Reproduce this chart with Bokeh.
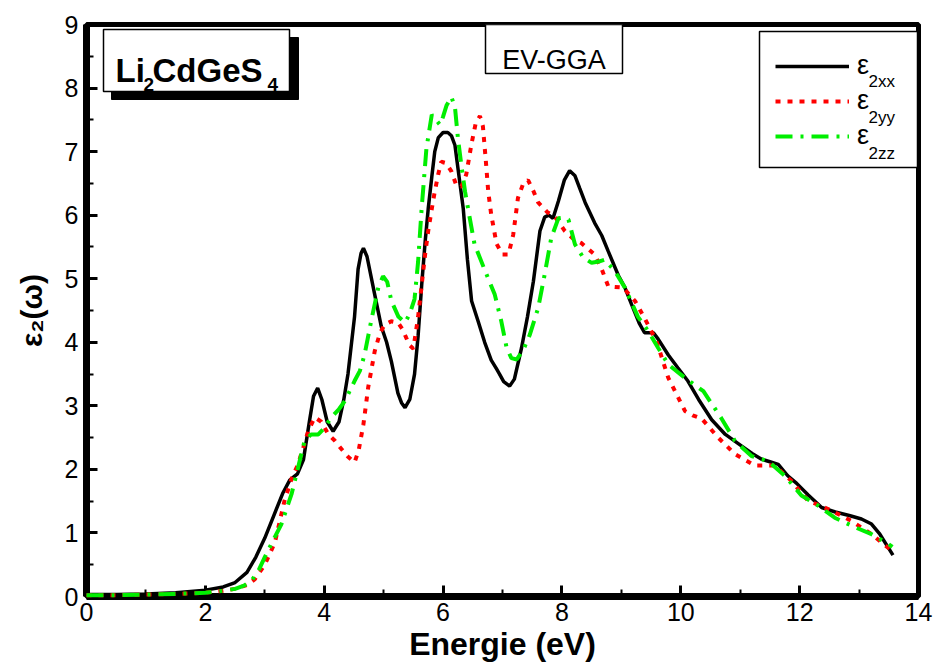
from bokeh.plotting import figure
from bokeh.models import (FixedTicker, Label, BoxAnnotation, Legend, LegendItem, Range1d)
from bokeh.embed import file_html
from bokeh.resources import INLINE

# ---------------- data ----------------
energy_xx = [0.0, 0.5, 1.0, 1.5, 2.0, 2.3, 2.5, 2.7, 2.85, 3.0, 3.15, 3.3, 3.42, 3.55, 3.65,
             3.75, 3.82, 3.89, 3.96, 4.05, 4.15, 4.25, 4.33, 4.40, 4.51, 4.57, 4.62, 4.66,
             4.72, 4.85, 4.96, 5.05, 5.13, 5.24, 5.30, 5.36, 5.44, 5.52, 5.58, 5.64, 5.70,
             5.75, 5.81, 5.86, 5.92, 6.0, 6.08, 6.14, 6.20, 6.25, 6.34, 6.41, 6.48, 6.59,
             6.70, 6.81, 6.90, 6.95, 7.02, 7.12, 7.2, 7.32, 7.42, 7.52, 7.63, 7.71, 7.78,
             7.85, 7.94, 8.04, 8.13, 8.22, 8.30, 8.39, 8.55, 8.67, 8.78, 8.95, 9.06, 9.17,
             9.30, 9.39, 9.47, 9.54, 9.62, 9.79, 9.95, 10.12, 10.30, 10.52, 10.75, 11.02,
             11.20, 11.36, 11.50, 11.64, 11.80, 11.95, 12.14, 12.37, 12.6, 12.85, 13.04,
             13.21, 13.35, 13.47, 13.57]
eps_xx = [0.03, 0.03, 0.04, 0.06, 0.10, 0.15, 0.22, 0.38, 0.62, 0.92, 1.27, 1.62, 1.83, 1.93,
          2.15, 2.75, 3.15, 3.28, 3.1, 2.75, 2.6, 2.75, 3.1, 3.5, 4.4, 5.15, 5.4, 5.48, 5.35,
          4.75, 4.25, 4.0, 3.7, 3.2, 3.05, 2.97, 3.1, 3.5, 4.1, 4.9, 5.6, 6.1, 6.6, 7.0, 7.22,
          7.3, 7.3, 7.25, 7.1, 6.74, 6.1, 5.3, 4.65, 4.33, 4.0, 3.72, 3.58, 3.5, 3.38, 3.31,
          3.42, 3.91, 4.4, 4.96, 5.75, 5.97, 6.0, 5.95, 6.22, 6.55, 6.7, 6.62, 6.42, 6.2,
          5.88, 5.68, 5.43, 5.05, 4.86, 4.6, 4.3, 4.15, 4.15, 4.15, 4.05, 3.8, 3.6, 3.39,
          3.1, 2.78, 2.55, 2.37, 2.25, 2.16, 2.12, 2.08, 1.9, 1.78, 1.6, 1.4, 1.33, 1.27,
          1.22, 1.14, 0.98, 0.8, 0.65]

energy_yy = [0.0, 0.5, 1.0, 1.5, 2.0, 2.3, 2.5, 2.7, 2.83, 3.0, 3.17, 3.33, 3.45, 3.56, 3.65,
             3.73, 3.84, 3.95, 4.07, 4.18, 4.29, 4.40, 4.51, 4.58, 4.66, 4.74, 4.85, 4.94,
             5.02, 5.13, 5.24, 5.32, 5.38, 5.44, 5.50, 5.58, 5.64, 5.70, 5.75, 5.81, 5.86,
             5.92, 5.97, 6.05, 6.14, 6.23, 6.31, 6.39, 6.48, 6.55, 6.62, 6.67, 6.72, 6.76,
             6.81, 6.90, 7.0, 7.10, 7.18, 7.26, 7.35, 7.43, 7.52, 7.60, 7.75, 7.88, 8.05,
             8.20, 8.33, 8.55, 8.67, 8.78, 9.03, 9.23, 9.39, 9.59, 9.79, 9.93, 10.07, 10.2,
             10.35, 10.63, 10.91, 11.25, 11.58, 11.86, 12.14, 12.54, 12.87, 13.21, 13.55]
eps_yy = [0.02, 0.02, 0.03, 0.04, 0.06, 0.09, 0.12, 0.18, 0.27, 0.5, 0.85, 1.5, 1.85, 2.08,
          2.35, 2.6, 2.82, 2.75, 2.55, 2.45, 2.32, 2.2, 2.11, 2.3, 2.71, 3.29, 3.86, 4.15,
          4.28, 4.33, 4.31, 4.2, 4.07, 3.95, 3.9, 4.4, 4.9, 5.4, 5.75, 6.1, 6.37, 6.65, 6.84,
          6.82, 6.69, 6.45, 6.45, 6.64, 7.13, 7.45, 7.56, 7.4, 6.85, 6.37, 6.01, 5.55, 5.38,
          5.38, 5.69, 6.27, 6.5, 6.55, 6.38, 6.2, 6.05, 5.98, 5.75, 5.62, 5.56, 5.38, 5.15,
          4.88, 4.86, 4.65, 4.38, 4.02, 3.44, 3.18, 2.92, 2.85, 2.8, 2.5, 2.24, 2.06, 2.06,
          1.82, 1.51, 1.35, 1.19, 0.98, 0.72]

energy_zz = [0.0, 0.5, 1.0, 1.5, 2.0, 2.3, 2.5, 2.65, 2.78, 2.9, 3.0, 3.15, 3.28, 3.45, 3.56,
             3.67, 3.78, 3.90, 4.0, 4.12, 4.25, 4.35, 4.51, 4.60, 4.68, 4.80, 4.91, 4.99,
             5.06, 5.13, 5.25, 5.36, 5.44, 5.52, 5.58, 5.64, 5.72, 5.81, 5.88, 5.95, 6.0,
             6.06, 6.14, 6.20, 6.25, 6.31, 6.37, 6.45, 6.53, 6.70, 6.87, 6.98, 7.07, 7.15,
             7.24, 7.35, 7.46, 7.60, 7.71, 7.82, 7.94, 8.02, 8.11, 8.22, 8.36, 8.50, 8.62,
             8.72, 8.89, 9.06, 9.28, 9.45, 9.62, 9.79, 10.07, 10.38, 10.68, 10.91, 11.19,
             11.47, 11.75, 12.03, 12.31, 12.59, 12.93, 13.21, 13.49, 13.56]
eps_zz = [0.02, 0.02, 0.03, 0.04, 0.06, 0.09, 0.12, 0.17, 0.25, 0.42, 0.62, 0.9, 1.14, 1.61,
          2.03, 2.45, 2.55, 2.55, 2.65, 2.82, 2.95, 3.08, 3.39, 3.55, 3.81, 4.38, 4.86, 5.04,
          4.95, 4.65, 4.4, 4.31, 4.45, 4.68, 5.27, 6.11, 7.05, 7.58, 7.5, 7.42, 7.55, 7.73,
          7.86, 7.7, 7.21, 6.77, 6.37, 5.95, 5.54, 5.14, 4.75, 4.33, 3.91, 3.75, 3.73, 3.88,
          4.12, 4.54, 5.07, 5.64, 5.95, 5.96, 5.93, 5.54, 5.33, 5.25, 5.27, 5.3, 5.12, 4.86,
          4.4, 4.18, 3.91, 3.65, 3.44, 3.23, 2.81, 2.45, 2.21, 2.13, 1.9, 1.59, 1.43, 1.24,
          1.09, 0.98, 0.83, 0.78]

x_ticks = [0, 2, 4, 6, 8, 10, 12, 14]
x_minor = [1, 3, 5, 7, 9, 11, 13]
y_ticks = [0, 1, 2, 3, 4, 5, 6, 7, 8, 9]
y_minor = [0.5, 1.5, 2.5, 3.5, 4.5, 5.5, 6.5, 7.5, 8.5]

series_labels = ["ε", "ε", "ε"]
series_subs = ["2xx", "2yy", "2zz"]

# ---------------- layout ----------------
W, H = 936, 668
FL, FR, FT, FB = 86, 918, 24, 596
X0, X1, Y0, Y1 = 0, 14, 0, 9
FONT = "Liberation Sans"


def sx(px):
    return X0 + (px - FL) * (X1 - X0) / (FR - FL)


def sy(py):
    return Y0 + (FB - py) * (Y1 - Y0) / (FB - FT)


p = figure(width=W, height=H, x_range=Range1d(X0, X1), y_range=Range1d(Y0, Y1),
           output_backend="svg", toolbar_location=None,
           min_border_left=FL, min_border_right=W - FR,
           min_border_top=FT, min_border_bottom=H - FB)
p.grid.visible = False
p.background_fill_color = "white"
p.border_fill_color = "white"
p.outline_line_color = "black"
p.outline_line_alpha = 1.0
p.outline_line_width = 5

for ax in (p.xaxis[0], p.yaxis[0]):
    ax.axis_line_width = 7
    ax.axis_line_color = "black"
    ax.axis_line_alpha = 1.0
    ax.major_tick_in = 11
    ax.major_tick_out = 0
    ax.minor_tick_in = 7
    ax.minor_tick_out = 0
    ax.major_tick_line_width = 3
    ax.minor_tick_line_width = 2
    ax.major_tick_line_color = "black"
    ax.minor_tick_line_color = "black"
    ax.major_label_text_font = FONT
    ax.major_label_text_font_size = "25px"
    ax.major_label_text_color = "black"
    ax.axis_label_text_font = FONT
    ax.axis_label_text_font_style = "bold"
    ax.axis_label_text_color = "black"

p.xaxis.ticker = FixedTicker(ticks=x_ticks, minor_ticks=x_minor)
p.yaxis.ticker = FixedTicker(ticks=y_ticks, minor_ticks=y_minor)
p.xaxis.axis_label = "Energie (eV)"
p.xaxis.axis_label_text_font_size = "32px"
p.xaxis.major_label_standoff = 6
p.xaxis.axis_label_standoff = 2
p.yaxis.axis_label = "ε₂(ω)"
p.yaxis.axis_label_text_font_size = "30px"
p.yaxis.major_label_standoff = 8
p.yaxis.axis_label_standoff = 14

r_xx = p.line(energy_xx, eps_xx, line_color="black", line_width=3.5, level="annotation")
r_yy = p.line(energy_yy, eps_yy, line_color="#ff0000", line_width=4, line_dash="5 7",
              level="annotation")
r_zz = p.line(energy_zz, eps_zz, line_color="#00ee00", line_width=4, line_dash="17 8 3 8",
              level="annotation")

# thick frame (under the curves)
p.add_layout(BoxAnnotation(left=X0, right=X1, bottom=Y0, top=Y1, fill_alpha=0.0,
                           line_color="black", line_alpha=1.0, line_width=5, level="guide"))

# legend box (drawn as annotation so that subscripts can sit on top)
p.add_layout(BoxAnnotation(left=sx(759), right=sx(917), top=sy(31), bottom=sy(167),
                           fill_color="white", fill_alpha=1.0, line_color="black",
                           line_alpha=1.0, line_width=1.5))
legend = Legend(items=[LegendItem(label=series_labels[0], renderers=[r_xx]),
                       LegendItem(label=series_labels[1], renderers=[r_yy]),
                       LegendItem(label=series_labels[2], renderers=[r_zz])],
                location=(759 - FL, FB - 167), margin=0, padding=16, spacing=4,
                glyph_width=74, glyph_height=26, label_height=26, label_width=44,
                label_standoff=8, border_line_alpha=0.0,
                background_fill_alpha=0.0,
                label_text_font=FONT, label_text_font_size="27px",
                label_text_color="black")
p.add_layout(legend)

sub_y = [81, 117, 153]
for txt, yb in zip(series_subs, sub_y):
    p.add_layout(Label(x=sx(868), y=sy(yb), text=txt, text_font=FONT, text_color="black",
                       text_font_size="17px", text_baseline="alphabetic"))

# compound label box with shadow
p.add_layout(BoxAnnotation(left=sx(111), right=sx(298), top=sy(37), bottom=sy(99),
                           fill_color="black", fill_alpha=1.0, line_color="black",
                           line_alpha=1.0))
p.add_layout(BoxAnnotation(left=sx(103), right=sx(289), top=sy(29), bottom=sy(91),
                           fill_color="white", fill_alpha=1.0, line_color="black",
                           line_alpha=1.0, line_width=1.5))
for txt, xp, yb, fs in [("Li", 115, 70, "33px"), ("2", 143, 84, "19px"),
                        ("CdGeS", 152, 70, "33px"), ("4", 267, 84, "19px")]:
    p.add_layout(Label(x=sx(xp), y=sy(yb), text=txt, text_font=FONT, text_font_style="bold",
                       text_color="black", text_font_size=fs, text_baseline="alphabetic"))

# method box
p.add_layout(BoxAnnotation(left=sx(485), right=sx(622), top=sy(24), bottom=sy(73),
                           fill_color="white", fill_alpha=1.0, line_color="black",
                           line_alpha=1.0, line_width=1.5))
p.add_layout(Label(x=sx(553.5), y=sy(59), text="EV-GGA", text_font=FONT, text_color="black",
                   text_font_size="27px", text_align="center", text_baseline="alphabetic"))

open("out.html", "w").write(file_html(p, INLINE))
